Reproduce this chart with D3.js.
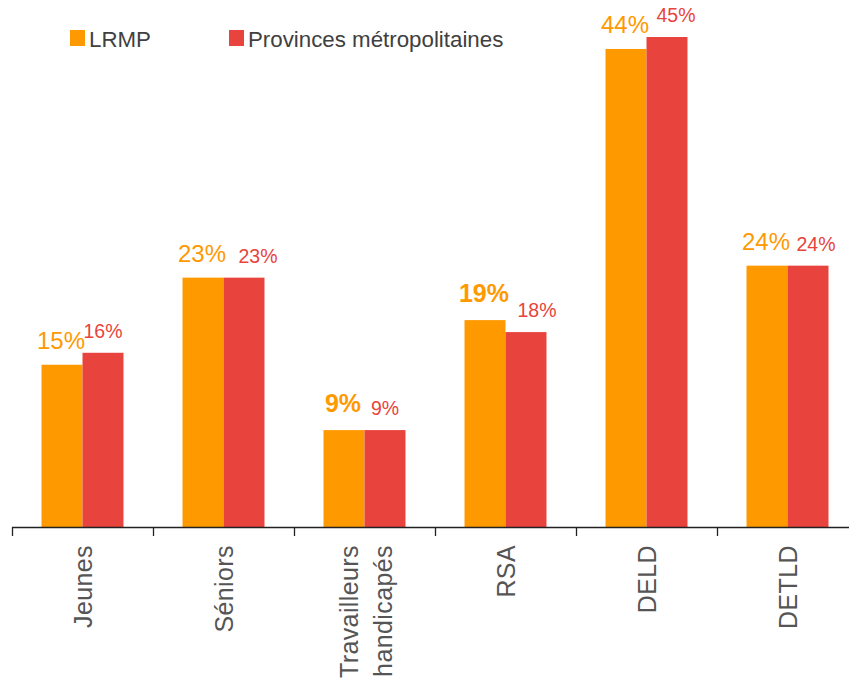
<!DOCTYPE html>
<html>
<head>
<meta charset="utf-8">
<script src="https://cdn.jsdelivr.net/npm/d3@7"></script>
<style>
  body { margin: 0; background: #fff; }
  svg { display: block; }
</style>
</head>
<body>
<script>
let w = 849;
let h = 683;

// data
let categories = ["Jeunes", "Séniors", "Travailleurs handicapés", "RSA", "DELD", "DETLD"];
let seriesNames = ["LRMP", "Provinces métropolitaines"];
let lrmp = [14.9, 22.9, 8.9, 19.0, 43.9, 24.0];
let provinces = [16.0, 22.9, 8.9, 17.9, 45.0, 24.0];

let colors = ["#FF9900", "#E8443D"];

// small label tweaks (styling only)
let boldLrmp = ["Travailleurs handicapés", "RSA"];
let provLabelShift = [0, 14, 0, 11, 9, 8];

let baseY = 527;

let x0 = d3.scaleBand()
  .domain(categories)
  .range([12, 858])
  .paddingInner(0)
  .paddingOuter(0);

let x1 = d3.scaleBand()
  .domain(seriesNames)
  .range([0, x0.bandwidth()])
  .paddingInner(0)
  .paddingOuter(0.72);

let y = d3.scaleLinear()
  .domain([0, 45])
  .range([baseY, 37]);

let color = d3.scaleOrdinal().domain(seriesNames).range(colors);

let rows = categories.map((c, i) => ({
  cat: c,
  i: i,
  vals: [
    { s: seriesNames[0], v: lrmp[i] },
    { s: seriesNames[1], v: provinces[i] }
  ]
}));

let svg = d3.select("body")
  .append("svg")
  .attr("width", w)
  .attr("height", h);

// bars
let groups = svg.selectAll("g.grp")
  .data(rows)
  .enter()
  .append("g")
  .attr("class", "grp")
  .attr("transform", d => "translate(" + x0(d.cat) + ",0)");

groups.selectAll("rect")
  .data(d => d.vals)
  .enter()
  .append("rect")
  .attr("x", d => x1(d.s))
  .attr("y", d => y(d.v))
  .attr("width", x1.bandwidth())
  .attr("height", d => baseY - y(d.v))
  .attr("fill", d => color(d.s));

// value labels
groups.each(function(d) {
  let g = d3.select(this);
  let bold = boldLrmp.includes(d.cat);
  g.append("text")
    .attr("x", x1(seriesNames[0]) + x1.bandwidth() / 2 - 1)
    .attr("y", y(d.vals[0].v) - (bold ? 18 : 16))
    .attr("text-anchor", "middle")
    .attr("font-family", "Liberation Sans, Arial, sans-serif")
    .attr("font-size", bold ? "25px" : "24px")
    .attr("font-weight", bold ? "bold" : "normal")
    .attr("fill", colors[0])
    .text(d3.format(".0f")(d.vals[0].v) + "%");
  g.append("text")
    .attr("x", x1(seriesNames[1]) + x1.bandwidth() / 2 + provLabelShift[d.i])
    .attr("y", y(d.vals[1].v) - 15)
    .attr("text-anchor", "middle")
    .attr("font-family", "Liberation Sans, Arial, sans-serif")
    .attr("font-size", "19.5px")
    .attr("fill", colors[1])
    .text(d3.format(".0f")(d.vals[1].v) + "%");
});

// x axis: line with ticks at category boundaries
svg.append("line")
  .attr("x1", x0.range()[0])
  .attr("x2", w)
  .attr("y1", baseY + 0.5)
  .attr("y2", baseY + 0.5)
  .attr("stroke", "#222")
  .attr("stroke-width", 1.3);

let bounds = categories.map(c => x0(c)).concat([x0.range()[1]]);
svg.selectAll("line.tick")
  .data(bounds)
  .enter()
  .append("line")
  .attr("class", "tick")
  .attr("x1", d => d + 0.5)
  .attr("x2", d => d + 0.5)
  .attr("y1", baseY)
  .attr("y2", baseY + 9)
  .attr("stroke", "#222")
  .attr("stroke-width", 1.3);

// category labels, rotated
svg.selectAll("text.cat")
  .data(categories)
  .enter()
  .append("text")
  .attr("class", "cat")
  .attr("font-family", "Liberation Sans, Arial, sans-serif")
  .attr("font-size", "25px")
  .attr("letter-spacing", "0.4px")
  .attr("fill", "#555")
  .attr("text-anchor", "end")
  .attr("transform", d => {
    let cx = x0(d) + x0.bandwidth() / 2;
    return "translate(" + cx + ",545) rotate(-90)";
  })
  .each(function(d) {
    let words = d.split(" ");
    let t = d3.select(this);
    if (words.length == 1) {
      t.append("tspan").attr("x", 0).attr("y", 9).text(d);
    } else {
      t.append("tspan").attr("x", 0).attr("y", -7).text(words[0]);
      t.append("tspan").attr("x", 0).attr("y", 27).text(words[1]);
    }
  });

// legend
let legend = svg.selectAll("g.leg")
  .data(seriesNames)
  .enter()
  .append("g")
  .attr("class", "leg")
  .attr("transform", (d, i) => "translate(" + [70, 229][i] + ",30)");

legend.append("rect")
  .attr("width", 15)
  .attr("height", 16)
  .attr("fill", d => color(d));

legend.append("text")
  .attr("x", 19)
  .attr("y", 16.5)
  .attr("font-family", "Liberation Sans, Arial, sans-serif")
  .attr("font-size", "22.3px")
  .attr("fill", "#404040")
  .text(d => d);
</script>
</body>
</html>
